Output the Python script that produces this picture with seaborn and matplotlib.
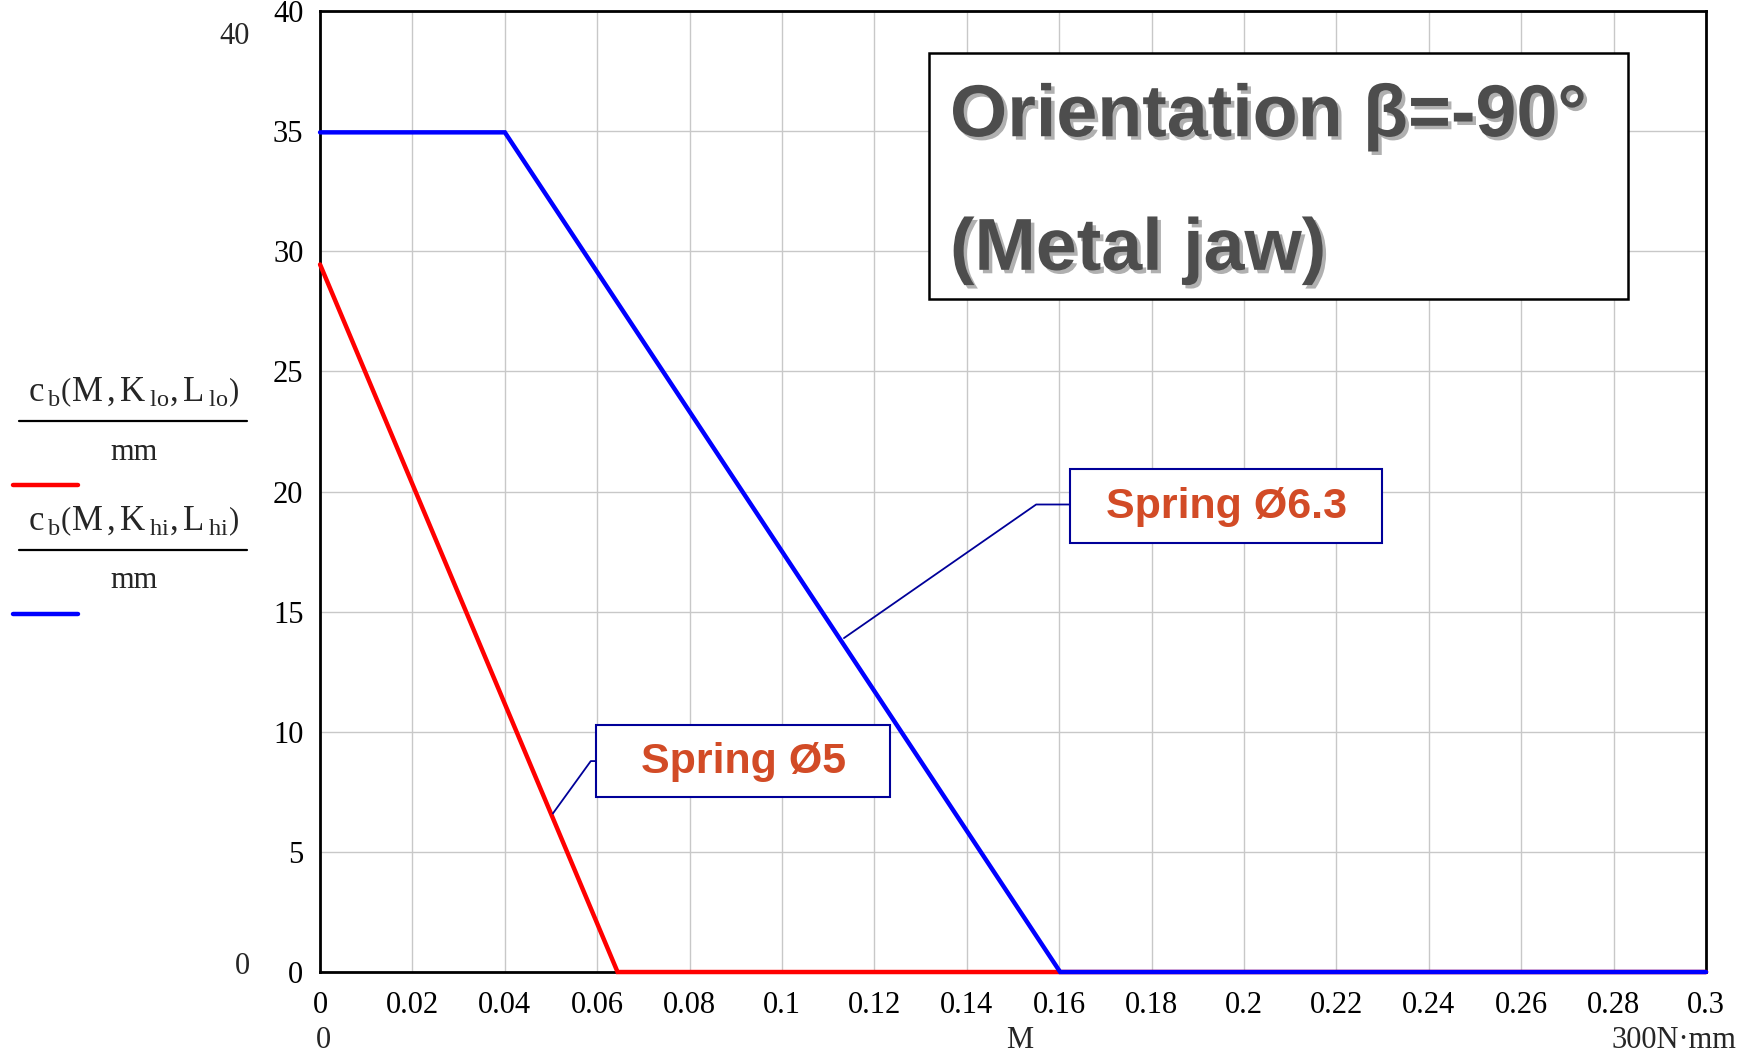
import matplotlib
matplotlib.use("Agg")
import matplotlib.pyplot as plt
import matplotlib.patheffects as pe
from matplotlib.patches import Rectangle
import pandas as pd
import seaborn as sns

# curve c_b(M, K_lo, L_lo)/mm  (spring dia 5)
m_lo = [0.0, 0.0644, 0.3]
cb_lo = [29.45, 0.0, 0.0]
# curve c_b(M, K_hi, L_hi)/mm  (spring dia 6.3)
m_hi = [0.0, 0.04, 0.1602, 0.3]
cb_hi = [34.95, 34.95, 0.0, 0.0]

x_ticks = [0, 0.02, 0.04, 0.06, 0.08, 0.1, 0.12, 0.14, 0.16, 0.18, 0.2, 0.22, 0.24, 0.26, 0.28, 0.3]
x_labels = ["0", "0.02", "0.04", "0.06", "0.08", "0.1", "0.12", "0.14", "0.16", "0.18",
            "0.2", "0.22", "0.24", "0.26", "0.28", "0.3"]
y_ticks = [0, 5, 10, 15, 20, 25, 30, 35, 40]

df = pd.concat([
    pd.DataFrame({"M": m_lo, "cb": cb_lo, "curve": "lo"}),
    pd.DataFrame({"M": m_hi, "cb": cb_hi, "curve": "hi"}),
])

sns.set_theme(style="white")
plt.rcParams["font.family"] = ["Liberation Serif", "DejaVu Serif"]
plt.rcParams["mathtext.fontset"] = "custom"
plt.rcParams["mathtext.rm"] = "Liberation Serif"
plt.rcParams["mathtext.it"] = "Liberation Serif:italic"

fs = 22

fig = plt.figure(figsize=(17.48, 10.6), dpi=100)
ax = fig.add_axes([0.1831, 0.083, 0.7929, 0.9066])

sns.lineplot(data=df, x="M", y="cb", hue="curve", hue_order=["lo", "hi"],
             palette={"lo": "#ff0000", "hi": "#0000ff"}, lw=3.2, legend=False,
             estimator=None, sort=False, ax=ax)
for ln in ax.lines:
    ln.set_clip_on(False)
    ln.set_zorder(5)
    ln.set_solid_joinstyle("miter")

ax.set_xlim(0, 0.3)
ax.set_ylim(0, 40)
ax.set_xticks(x_ticks)
ax.set_xticklabels(x_labels)
ax.set_yticks(y_ticks)
ax.tick_params(axis="both", length=0, labelsize=fs, colors="black")
ax.tick_params(axis="x", pad=14)
ax.tick_params(axis="y", pad=12)
ax.grid(True, color="#c8c8c8", lw=1)
ax.set_xlabel("")
ax.set_ylabel("")
for s in ax.spines.values():
    s.set_color("black")
    s.set_linewidth(2)
    s.set_visible(True)

# axis limit labels (Mathcad style)
fig.text(250 / 1748, 1 - 36 / 1060, "40", ha="right", va="center", fontsize=fs)
fig.text(250 / 1748, 1 - 966 / 1060, "0", ha="right", va="center", fontsize=fs)
fig.text(323 / 1748, 1 - 1040 / 1060, "0", ha="center", va="center", fontsize=fs)
fig.text(1020 / 1748, 1 - 1040 / 1060, "M", ha="center", va="center", fontsize=fs)
fig.text(1736 / 1748, 1 - 1040 / 1060, "300N\u00b7mm", ha="right", va="center", fontsize=fs)

# left legend with fraction expressions
legend_items = [
    (r"${\mathrm{c}\,}_{\mathrm{b}}\left(\mathrm{M}\,,\mathrm{K}\,_{\mathrm{lo}},\mathrm{L}\,_{\mathrm{lo}}\right)$", "#ff0000", 392),
    (r"${\mathrm{c}\,}_{\mathrm{b}}\left(\mathrm{M}\,,\mathrm{K}\,_{\mathrm{hi}},\mathrm{L}\,_{\mathrm{hi}}\right)$", "#0000ff", 521),
]
for expr, col, yy in legend_items:
    fig.text(134 / 1748, 1 - yy / 1060, expr, ha="center", va="center", fontsize=25)
    fig.add_artist(plt.Line2D([19 / 1748, 247 / 1748], [1 - (yy + 29) / 1060] * 2,
                              color="black", lw=1.6))
    fig.text(134 / 1748, 1 - (yy + 60) / 1060, "mm", ha="center", va="center", fontsize=fs)
    fig.add_artist(plt.Line2D([13 / 1748, 78 / 1748], [1 - (yy + 93) / 1060] * 2,
                              color=col, lw=3.2))

# title box
ax.add_patch(Rectangle((0.4394, 0.7003), 0.5043, 0.256, transform=ax.transAxes,
                       facecolor="white", edgecolor="black", lw=1.8, zorder=6))
shadow = [pe.withSimplePatchShadow(offset=(2.5, -2.5), shadow_rgbFace="#b0b0b0", alpha=1)]
ax.text(0.4545, 0.890, "Orientation \u03b2=-90\u00b0", transform=ax.transAxes,
        ha="left", va="center", fontsize=53, fontweight="bold", color="#4d4d4d",
        family="Liberation Sans", path_effects=shadow, zorder=7)
ax.text(0.4545, 0.751, "(Metal jaw)", transform=ax.transAxes,
        ha="left", va="center", fontsize=53, fontweight="bold", color="#4d4d4d",
        family="Liberation Sans", path_effects=shadow, zorder=7)

# spring labels with leader lines
navy = "#000099"
label_col = "#d24b26"
ax.add_patch(Rectangle((0.5411, 0.4464), 0.2251, 0.077, transform=ax.transAxes,
                       facecolor="white", edgecolor=navy, lw=1.5, zorder=6))
ax.text(0.6537, 0.4835, "Spring \u00d86.3", transform=ax.transAxes, ha="center",
        va="center", fontsize=31, fontweight="bold", color=label_col,
        family="Liberation Sans", zorder=7)
ax.plot([0.1623, 0.155, 0.1134], [19.46, 19.46, 13.9], color=navy, lw=1.3, zorder=6)

ax.add_patch(Rectangle((0.1991, 0.1821), 0.2122, 0.0749, transform=ax.transAxes,
                       facecolor="white", edgecolor=navy, lw=1.5, zorder=6))
ax.text(0.3052, 0.2182, "Spring \u00d85", transform=ax.transAxes, ha="center",
        va="center", fontsize=31, fontweight="bold", color=label_col,
        family="Liberation Sans", zorder=7)
ax.plot([0.0597, 0.0586, 0.0504], [8.78, 8.78, 6.6], color=navy, lw=1.3, zorder=6)

fig.savefig("out.png", dpi=100)
